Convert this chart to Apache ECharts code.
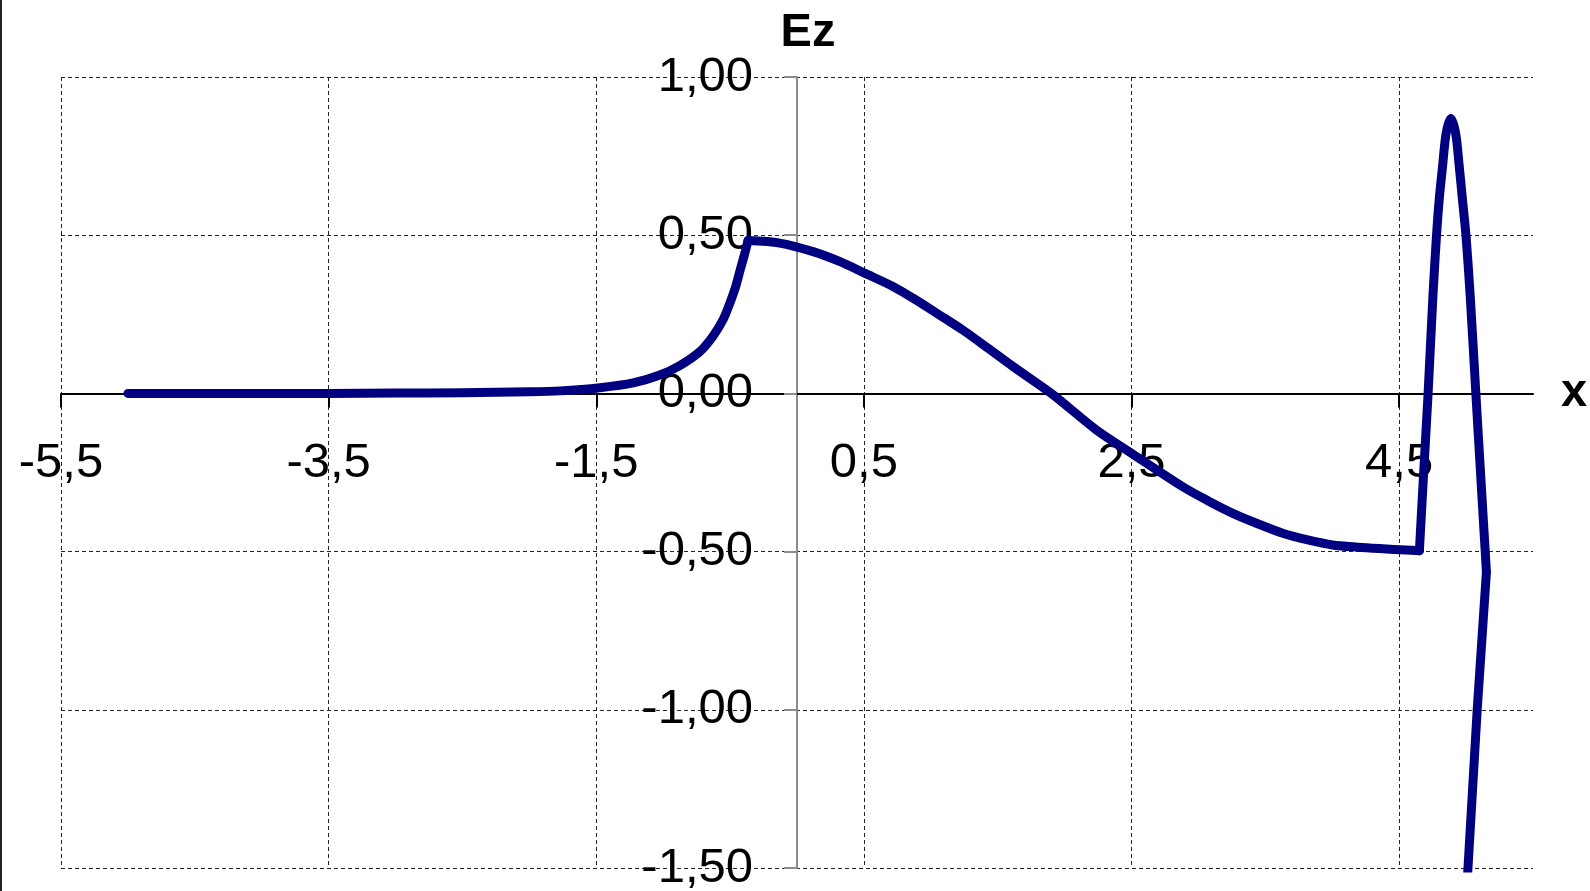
<!DOCTYPE html>
<html>
<head>
<meta charset="utf-8">
<script src="https://cdn.jsdelivr.net/npm/echarts@6/dist/echarts.min.js"></script>
<style>
  html, body { margin: 0; padding: 0; background: #ffffff; }
  #chart { width: 1590px; height: 891px; }
</style>
</head>
<body>
<div id="chart"></div>
<script>
// Ez field profile along x (sampled points)
const xValues = [
  -5.0, -4.5, -4.0, -3.5, -3.0, -2.5, -2.0, -1.77, -1.473, -1.224, -1.025, -0.876,
  -0.726, -0.626, -0.55, -0.502, -0.46, -0.428, -0.395, -0.366,
  -0.129, 0.12, 0.318, 0.506, 0.717, 0.867, 1.053, 1.24, 1.427, 1.614, 1.90,
  2.236, 2.51, 2.883, 3.07, 3.257, 3.443, 3.63, 3.817, 4.003, 4.19, 4.377, 4.55, 4.651,
  4.683, 4.716, 4.752, 4.779, 4.799, 4.824, 4.851, 4.886, 4.922, 4.949, 4.973, 4.999,
  5.031, 5.073, 5.112, 5.152,
  5.083, 5.01
];
const ezValues = [
  0.000, 0.000, 0.000, 0.000, 0.001, 0.002, 0.005, 0.008, 0.018, 0.033, 0.058, 0.088,
  0.132, 0.182, 0.235, 0.285, 0.335, 0.385, 0.435, 0.483,
  0.475, 0.448, 0.417, 0.380, 0.338, 0.301, 0.251, 0.200, 0.143, 0.085, 0.000,
  -0.115, -0.192, -0.295, -0.339, -0.379, -0.412, -0.442, -0.463, -0.479, -0.486, -0.491, -0.495, -0.497,
  -0.250, 0.000, 0.306, 0.500, 0.612, 0.717, 0.822, 0.869, 0.822, 0.717, 0.612, 0.500,
  0.306, 0.000, -0.280, -0.564,
  -1.000, -1.530
];
// indices of the sharp corners where the profile changes regime
const cornerIdx = [19, 43, 59];

// Axis ranges and tick steps
const xRange = [-5.5, 5.5];
const xStep = 2;
const yRange = [-1.5, 1.0];
const yStep = 0.5;
const xName = 'x';
const yName = 'Ez';

const points = xValues.map((x, i) => [x, ezValues[i]]);
const bounds = [0].concat(cornerIdx, [points.length - 1]);
const pieces = [];
for (let k = 0; k < bounds.length - 1; k++) {
  pieces.push(points.slice(bounds[k], bounds[k + 1] + 1));
}
const commaNum = (v, d) => v.toFixed(d).replace('.', ',');

const FONT = "'Liberation Sans', Arial, sans-serif";
const gridLine = { show: true, lineStyle: { color: '#222', width: 1, type: [4, 3] } };
const curveStyle = { color: '#000080', width: 9, cap: 'round', join: 'round' };

const chart = echarts.init(document.getElementById('chart'), null, { renderer: 'canvas' });
chart.setOption({
  backgroundColor: '#ffffff',
  animation: false,
  grid: { left: 61, right: 57, top: 77, bottom: 23, outerBoundsMode: 'none', containLabel: false },
  xAxis: {
    type: 'value',
    min: xRange[0], max: xRange[1], interval: xStep,
    name: xName,
    nameLocation: 'end',
    nameGap: 28,
    nameTextStyle: { fontFamily: FONT, fontSize: 47, fontWeight: 'bold', color: '#000', padding: [4, 0, 0, 0] },
    axisLine: { show: true, onZero: false, lineStyle: { color: '#000', width: 2 } },
    axisTick: { show: true, inside: false, length: 14, lineStyle: { color: '#000', width: 2 } },
    axisLabel: {
      show: true, margin: 46, showMaxLabel: false,
      fontFamily: FONT, fontSize: 49, color: '#000',
      formatter: v => commaNum(v, 1)
    },
    splitLine: Object.assign({ showMaxLine: false }, gridLine)
  },
  yAxis: {
    type: 'value',
    min: yRange[0], max: yRange[1], interval: yStep,
    name: yName,
    nameLocation: 'end',
    nameGap: 20,
    nameTextStyle: { fontFamily: FONT, fontSize: 47, fontWeight: 'bold', color: '#000', padding: [0, 0, 0, 22] },
    axisLine: { show: true, onZero: false, lineStyle: { color: '#8c8c8c', width: 2 } },
    axisTick: { show: true, inside: false, length: 13, lineStyle: { color: '#8c8c8c', width: 2 } },
    axisLabel: {
      show: true, margin: 44,
      fontFamily: FONT, fontSize: 49, color: '#000',
      formatter: v => commaNum(v, 2)
    },
    splitLine: gridLine
  },
  graphic: [{
    type: 'line',
    shape: { x1: 1, y1: 0, x2: 1, y2: 891 },
    style: { stroke: '#222', lineWidth: 2 },
    silent: true
  }],
  series: pieces.map((data, k) => ({
    type: 'line',
    data: data,
    showSymbol: false,
    symbol: 'none',
    smooth: k < pieces.length - 1 ? 0.3 : false,
    clip: true,
    lineStyle: curveStyle,
    z: 5
  }))
});

// Put both axes (line, ticks, labels, name) through the origin of the data.
const originX = chart.convertToPixel({ xAxisIndex: 0 }, 0);
const originY = chart.convertToPixel({ yAxisIndex: 0 }, 0);
const gridLeftPx = chart.convertToPixel({ xAxisIndex: 0 }, xRange[0]);
const gridBottomPx = chart.convertToPixel({ yAxisIndex: 0 }, yRange[0]);
chart.setOption({
  xAxis: { offset: originY - gridBottomPx },
  yAxis: { offset: gridLeftPx - originX }
});
</script>
</body>
</html>
